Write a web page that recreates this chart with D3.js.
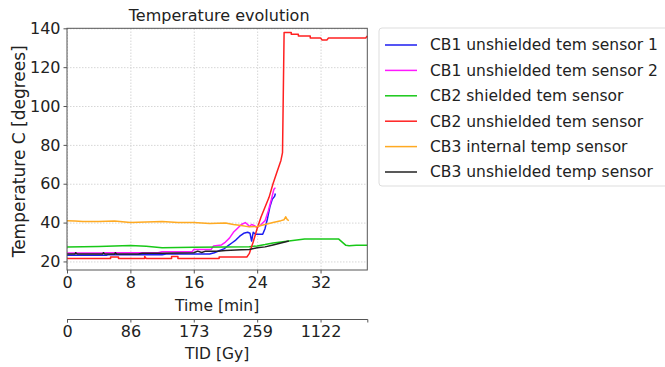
<!DOCTYPE html>
<html>
<head>
<meta charset="utf-8">
<script src="https://cdn.jsdelivr.net/npm/d3@7"></script>
<style>
  body { margin: 0; background: #fff; }
  text { font-family: "DejaVu Sans", sans-serif; fill: #222; }
</style>
</head>
<body>
<div id="chart"></div>
<script>
// axis ticks
const timeTicks = [0, 8, 16, 24, 32];
const tidLabels = ["0", "86", "173", "259", "1122"];
const tempTicks = [20, 40, 60, 80, 100, 120, 140];

// series, [time min, temperature C]
const cb1Sensor1 = [[0,23.2],[5,23.2],[5.2,23.5],[12,23.5],[12.5,23.8],[18,23.8],[18.6,24.5],[19.2,25.5],[19.8,26.5],[20.3,28],[20.8,29.5],[21.3,31],[21.8,33],[22.3,34.5],[22.8,35],[23.1,34.5],[23.3,30.5],[23.5,35],[23.8,34],[24.7,34],[25,37],[25.3,42],[25.6,48],[25.9,52],[26.2,53.5],[26.3,55]];
const cb1Sensor2 = [[0,24.3],[4.5,24.3],[5,24.5],[11.5,24.5],[12,25],[15.8,25],[16,26.2],[18.2,26.2],[18.5,28],[19.5,28.5],[20,30],[20.5,32],[21,35],[21.5,37],[22,39],[22.5,40],[22.8,39],[23,38],[23.3,39],[23.6,38.5],[24,37.5],[24.5,39],[25,41],[25.4,46],[25.8,52],[26.1,57],[26.3,58]];
const cb2Shielded = [[0,27.5],[4,27.7],[8,28.2],[10,27.8],[12,27],[14,27.2],[16,27.3],[20,27.5],[23,27.6],[24,28],[25,28.7],[26,29.5],[27,30],[28,30.5],[29,31],[30,31.5],[34.3,31.5],[35.2,28.3],[35.6,28.1],[36.5,28.3],[37.9,28.3]];
const cb2Unshielded = [[0,21.5],[5.5,21.5],[5.5,22.3],[6.5,22.3],[6.5,21.5],[9.8,21.5],[9.8,22.5],[10,21.5],[13.2,21.5],[13.2,22.5],[14,22.5],[14,21.5],[19.2,21.5],[19.2,22.3],[22.7,22.3],[23,24],[23.5,30],[24,37],[24.5,43],[25,48],[25.5,53],[26,60],[26.5,66],[27,72],[27.2,76],[27.4,137.8],[28.3,137.8],[28.3,137],[29.2,137],[29.2,136],[30.7,136],[30.7,135],[32,135],[32.2,134],[32.8,134],[33,135],[37.7,135],[37.9,136]];
const cb3Internal = [[0,41],[1,40.8],[2,40.5],[4,40.5],[6,40.8],[8,40],[10,40.3],[12,40.5],[14,40],[16,40],[18,39.5],[20,39.8],[21,39],[22,38.5],[23,37.8],[24,38],[25,39],[26,40],[27,41],[27.4,41.5],[27.6,43],[27.8,41.5],[28,41]];
const cb3Unshielded = [[0,23.8],[1,23.8],[1.1,24.5],[1.3,23.8],[4.5,23.8],[4.6,24.5],[4.8,23.8],[6,23.8],[6.1,24.5],[6.3,23.8],[9,23.8],[9.5,24.2],[12,24.2],[16,24.5],[16.5,25.3],[17,24.6],[17.5,25.3],[19,25.3],[20,25.6],[22,26],[23,26.2],[24,27],[25,27.5],[26,28.5],[27,29.5],[28,30.5]];

const seriesNames = ["CB1 unshielded tem sensor 1", "CB1 unshielded tem sensor 2", "CB2 shielded tem sensor",
  "CB2 unshielded tem sensor", "CB3 internal temp sensor", "CB3 unshielded temp sensor"];
const seriesData = [cb1Sensor1, cb1Sensor2, cb2Shielded, cb2Unshielded, cb3Internal, cb3Unshielded];
const seriesColors = ["#1c1cf0", "#ff18ff", "#18c818", "#ff2020", "#ffaa22", "#222222"];

const margin = { top: 28.3, left: 67 };
const width = 300.3;
const height = 241.7;

const svg = d3.select("#chart")
  .append("svg")
  .attr("width", 665)
  .attr("height", 367);

const g = svg.append("g")
  .attr("transform", `translate(${margin.left},${margin.top})`);

const x = d3.scaleLinear().domain([0, 37.9]).range([0, width]);
const y = d3.scaleLinear().domain([15.6, 140]).range([height, 0]);

// grid
g.append("g")
  .attr("transform", `translate(0,${height})`)
  .call(d3.axisBottom(x).tickValues(timeTicks).tickSize(-height).tickFormat(""))
  .call(a => a.select(".domain").remove())
  .selectAll("line").attr("stroke", "#d6d6d6").attr("stroke-dasharray", "1.5,1.5");
g.append("g")
  .call(d3.axisLeft(y).tickValues(tempTicks).tickSize(-width).tickFormat(""))
  .call(a => a.select(".domain").remove())
  .selectAll("line").attr("stroke", "#d6d6d6").attr("stroke-dasharray", "1.5,1.5");

// lines
const line = d3.line().x(d => x(d[0])).y(d => y(d[1]));
g.selectAll(".series")
  .data(seriesData)
  .join("path")
  .attr("class", "series")
  .attr("d", line)
  .attr("fill", "none")
  .attr("stroke", (d, i) => seriesColors[i])
  .attr("stroke-width", 1.5)
  .attr("stroke-linejoin", "round");

// frame
g.append("rect")
  .attr("width", width)
  .attr("height", height)
  .attr("fill", "none")
  .attr("stroke", "#555")
  .attr("stroke-width", 1);

// axes
const xAxis = g.append("g")
  .attr("transform", `translate(0,${height})`)
  .call(d3.axisBottom(x).tickValues(timeTicks).tickSize(3.5).tickPadding(3));
const yAxis = g.append("g")
  .call(d3.axisLeft(y).tickValues(tempTicks).tickSize(3.5).tickPadding(3));
[xAxis, yAxis].forEach(a => {
  a.select(".domain").remove();
  a.selectAll("line").attr("stroke", "#555");
  a.selectAll("text").style("font-size", "16px").attr("fill", "#222");
});

// secondary TID axis
const tid = g.append("g")
  .attr("transform", `translate(0,${height + 49})`)
  .call(d3.axisBottom(x).tickValues(timeTicks).tickSize(3.5).tickPadding(3)
    .tickFormat((d, i) => tidLabels[i]));
tid.select(".domain").attr("stroke", "#555");
tid.selectAll("line").attr("stroke", "#555");
tid.selectAll("text").style("font-size", "16px").attr("fill", "#222");

// labels
g.append("text")
  .attr("x", width / 2)
  .attr("y", height + 41)
  .attr("text-anchor", "middle")
  .style("font-size", "15.5px")
  .text("Time [min]");

g.append("text")
  .attr("x", width / 2)
  .attr("y", height + 89)
  .attr("text-anchor", "middle")
  .style("font-size", "15.5px")
  .text("TID [Gy]");

g.append("text")
  .attr("transform", "rotate(-90)")
  .attr("x", -123)
  .attr("y", -42)
  .attr("text-anchor", "middle")
  .style("font-size", "17px")
  .text("Temperature C [degrees]");

g.append("text")
  .attr("x", width / 2 + 2)
  .attr("y", -7)
  .attr("text-anchor", "middle")
  .style("font-size", "16px")
  .text("Temperature evolution");

// legend
const legend = svg.append("g").attr("transform", "translate(379,28)");
legend.append("rect")
  .attr("width", 300)
  .attr("height", 158)
  .attr("rx", 3)
  .attr("fill", "#fff")
  .attr("stroke", "#ddd");
const item = legend.selectAll(".item")
  .data(seriesNames)
  .join("g")
  .attr("class", "item")
  .attr("transform", (d, i) => `translate(0,${17 + i * 25.4})`);
item.append("line")
  .attr("x1", 6).attr("x2", 38)
  .attr("stroke", (d, i) => seriesColors[i])
  .attr("stroke-width", 1.5);
item.append("text")
  .attr("x", 51)
  .attr("dy", "0.35em")
  .style("font-size", "15.5px")
  .text(d => d);
</script>
</body>
</html>
